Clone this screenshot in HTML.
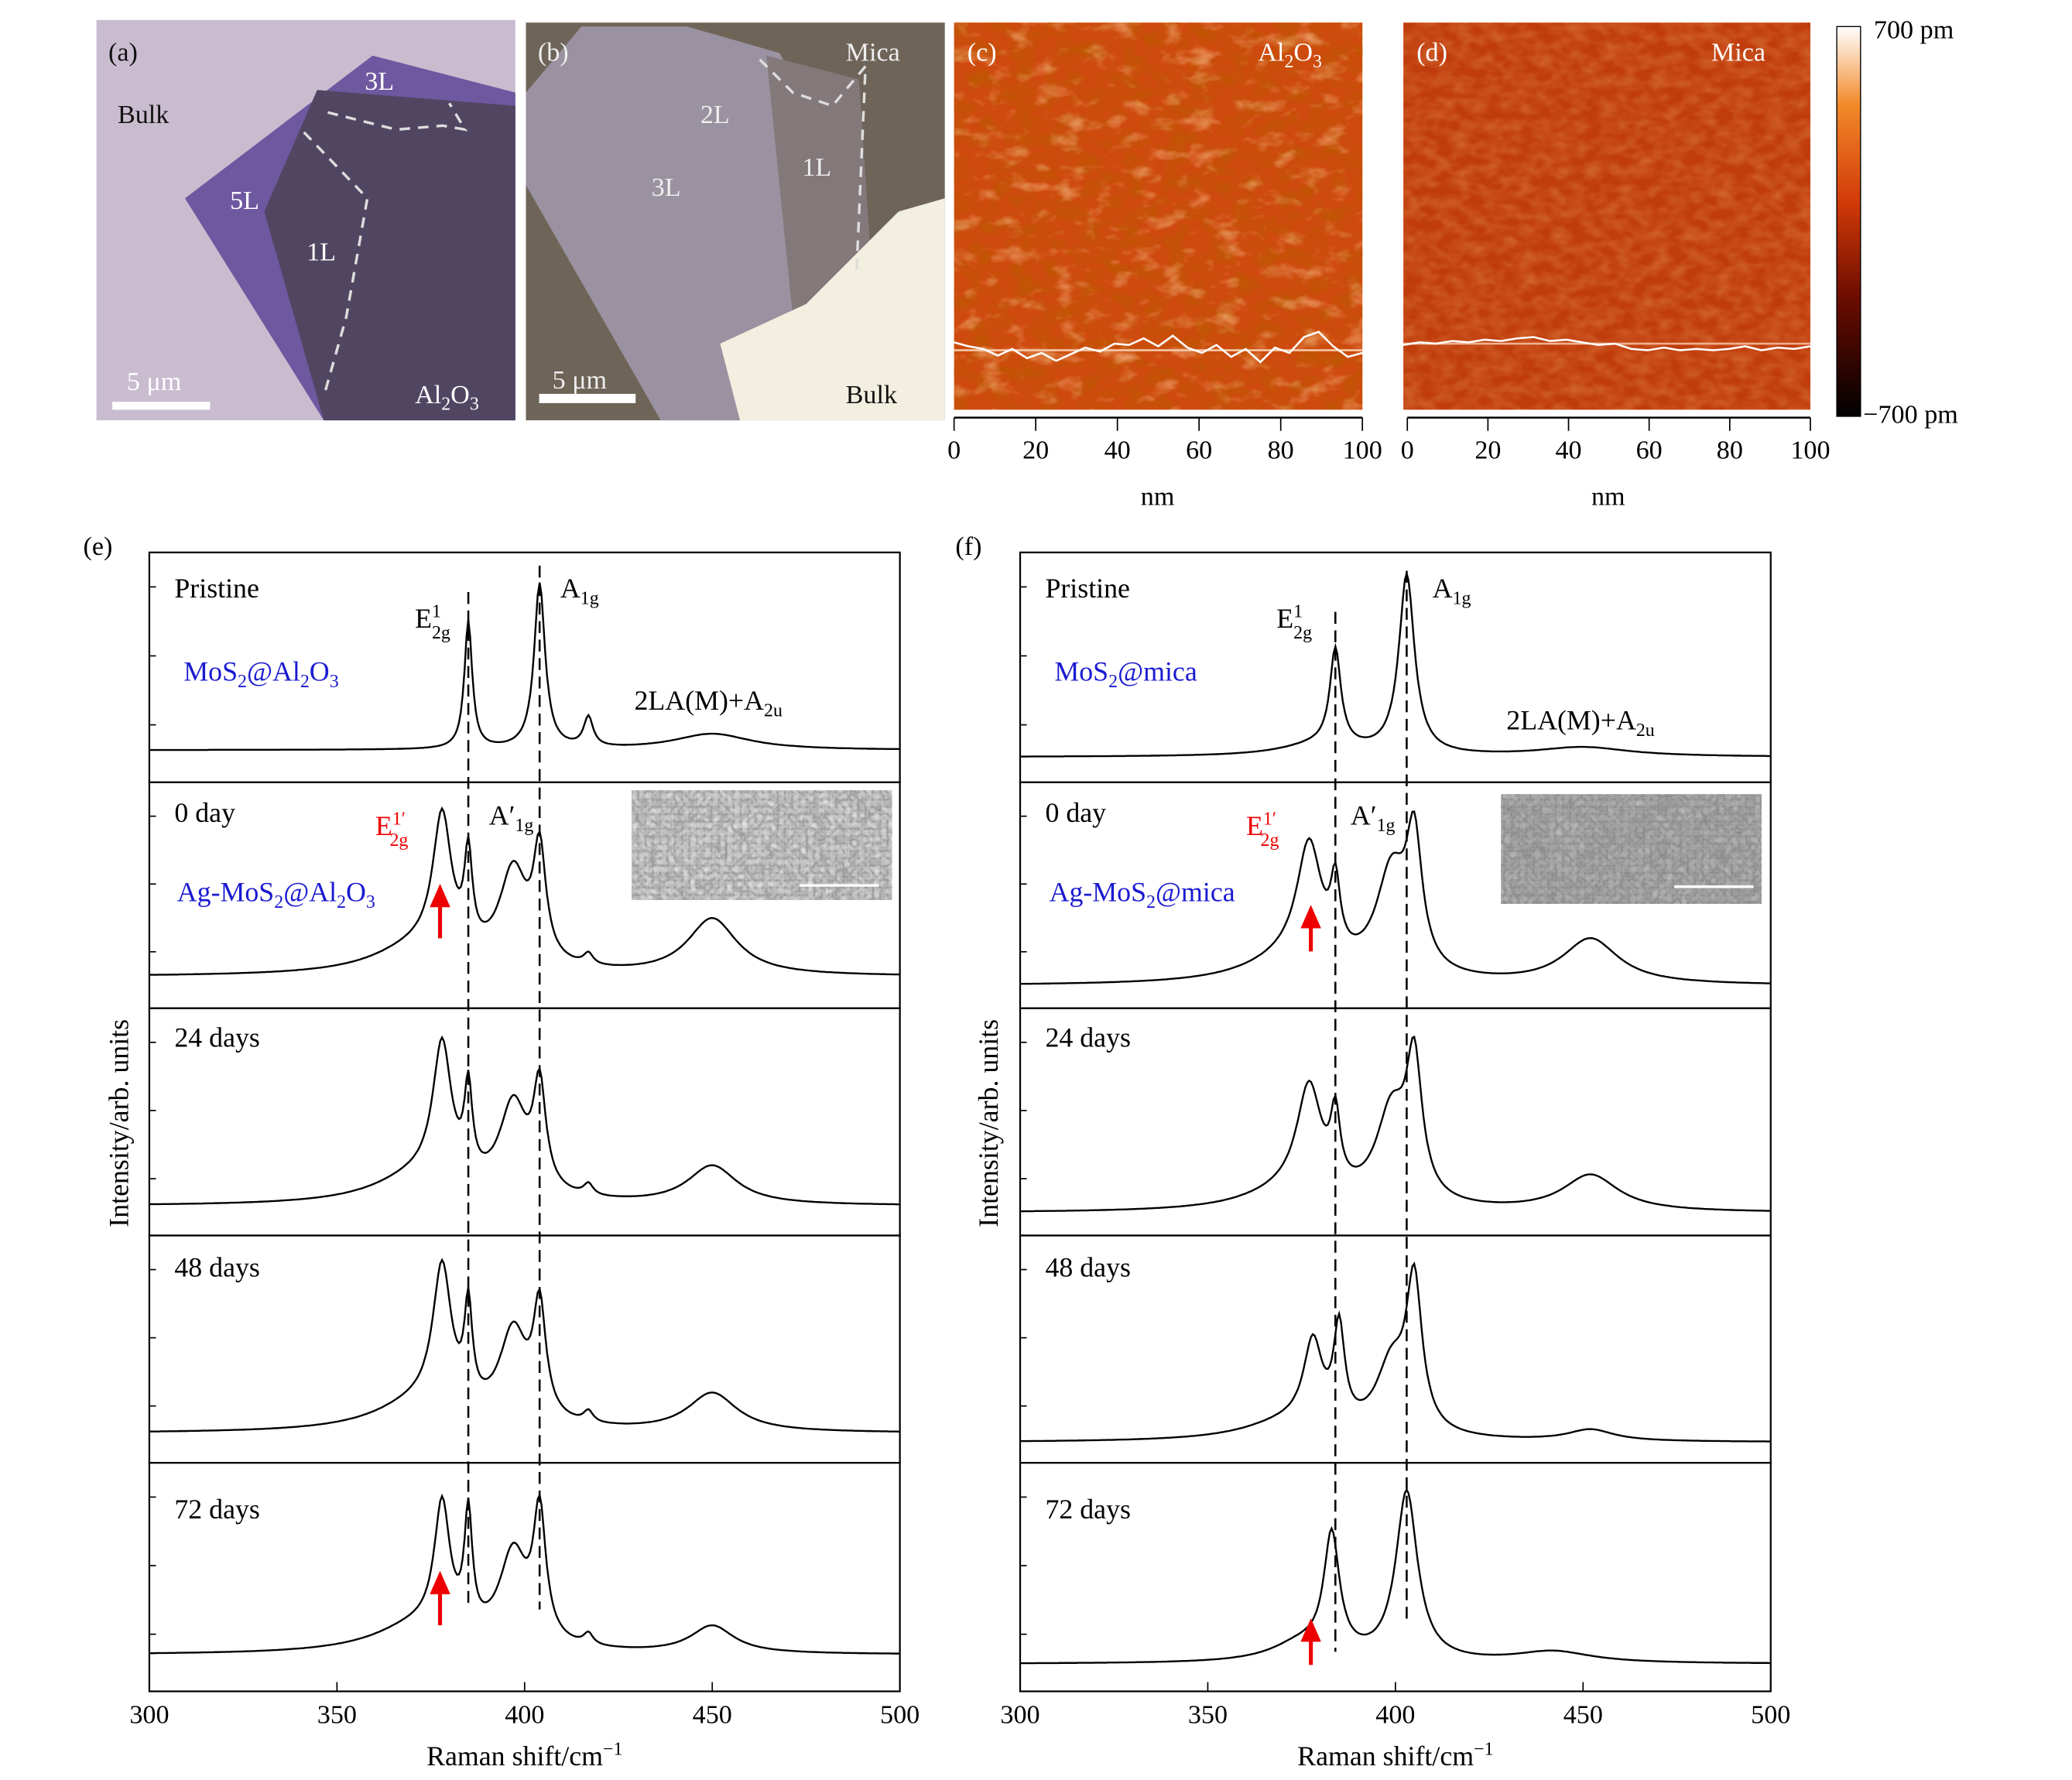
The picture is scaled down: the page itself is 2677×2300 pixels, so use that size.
<!DOCTYPE html>
<html><head><meta charset="utf-8"><style>
html,body{margin:0;padding:0;background:#fff;}
svg{display:block;font-family:"Liberation Serif",serif;}
</style></head><body>
<svg id="fig" width="2677" height="2300" viewBox="0 0 1568 1347" xmlns="http://www.w3.org/2000/svg">
<defs>
<filter id="afmC" x="0" y="0" width="1" height="1">
<feTurbulence type="fractalNoise" baseFrequency="0.06 0.09" numOctaves="3" seed="3"/>
<feColorMatrix type="matrix" values="0 0 0 0 0.5  0 0 0 0 0.1  0 0 0 0 0.0  1.6 0 0 0 -0.6"/>
</filter>
<filter id="afmC2" x="0" y="0" width="1" height="1">
<feTurbulence type="fractalNoise" baseFrequency="0.05 0.08" numOctaves="3" seed="11"/>
<feColorMatrix type="matrix" values="0 0 0 0 1  0 0 0 0 0.65  0 0 0 0 0.35  1.4 0 0 0 -0.75"/>
</filter>
<filter id="afmD" x="0" y="0" width="1" height="1">
<feTurbulence type="fractalNoise" baseFrequency="0.08 0.12" numOctaves="2" seed="7"/>
<feColorMatrix type="matrix" values="0 0 0 0 0.9  0 0 0 0 0.45  0 0 0 0 0.15  0.6 0 0 0 -0.2"/>
</filter>
<filter id="sem" x="0" y="0" width="1" height="1">
<feTurbulence type="turbulence" baseFrequency="0.18" numOctaves="2" seed="4"/>
<feColorMatrix type="matrix" values="0.3 0.3 0.3 0 0.25  0.3 0.3 0.3 0 0.25  0.3 0.3 0.3 0 0.25  0 0 0 0 1"/>
</filter>
<linearGradient id="cbar" x1="0" y1="1" x2="0" y2="0">
<stop offset="0" stop-color="#000"/><stop offset="0.3" stop-color="#6a0c00"/><stop offset="0.55" stop-color="#d23a08"/><stop offset="0.8" stop-color="#f28a2a"/><stop offset="1" stop-color="#fff"/>
</linearGradient>
</defs>

<g>
<rect x="73" y="15" width="317" height="303" fill="#c9bccf"/>
<polygon points="140,150 282,42 390,70 390,318 245,318" fill="#6e58a0"/>
<polygon points="200,160 240,68 390,80 390,318 245,318" fill="#514662"/>
<polyline points="230,100 278,150 262,240 245,300" fill="none" stroke="#ddd" stroke-width="2" stroke-dasharray="8,6"/>
<polyline points="248,85 300,98 335,95 352,98 340,78" fill="none" stroke="#ddd" stroke-width="2" stroke-dasharray="8,6"/>
<rect x="85" y="304" width="74" height="6" fill="#fff"/>
<g font-size="20" fill="#111"><text x="82" y="46">(a)</text><text x="89" y="93">Bulk</text></g>
<g font-size="20" fill="#fff"><text x="276" y="68">3L</text><text x="174" y="158">5L</text><text x="232" y="197">1L</text><text x="96" y="295">5 μm</text><text x="314" y="305">Al<tspan font-size="14" dy="5">2</tspan><tspan dy="-5">O</tspan><tspan font-size="14" dy="5">3</tspan></text></g>
</g>

<g>
<rect x="398" y="17" width="317" height="301" fill="#6e6458"/>
<polygon points="398,70 440,20 520,20 590,40 648,150 660,215 600,250 560,318 500,318 398,140" fill="#9a92a0"/>
<polygon points="580,42 650,60 660,210 600,240" fill="#83797b"/>
<polygon points="545,260 610,230 680,160 715,150 715,318 560,318" fill="#f3efe0"/>
<polyline points="575,45 600,70 630,80 655,50 648,210" fill="none" stroke="#ddd" stroke-width="2" stroke-dasharray="8,6"/>
<rect x="408" y="298" width="73" height="7" fill="#fff"/>
<g font-size="20" fill="#eee"><text x="407" y="46">(b)</text><text x="640" y="46">Mica</text><text x="530" y="93">2L</text><text x="493" y="148">3L</text><text x="607" y="133">1L</text><text x="418" y="294">5 μm</text></g>
<text x="640" y="305" font-size="20" fill="#111">Bulk</text>
</g>

<g>
<rect x="722" y="17" width="309" height="293" fill="#cf4a0e"/>
<rect x="722" y="17" width="309" height="293" filter="url(#afmC)"/>
<rect x="722" y="17" width="309" height="293" filter="url(#afmC2)"/>
<line x1="722" y1="265" x2="1031" y2="265" stroke="#f6c8a8" stroke-width="1.5"/>
<polyline id="profC" fill="none" stroke="#fff" stroke-width="1.5"/>
<g font-size="20" fill="#fff"><text x="732" y="46">(c)</text><text x="952" y="46">Al<tspan font-size="14" dy="5">2</tspan><tspan dy="-5">O</tspan><tspan font-size="14" dy="5">3</tspan></text></g>
</g>
<g>
<rect x="1062" y="17" width="308" height="293" fill="#c03c0c"/>
<rect x="1062" y="17" width="308" height="293" filter="url(#afmD)"/>
<line x1="1062" y1="260" x2="1370" y2="260" stroke="#f0b090" stroke-width="1.5"/>
<polyline id="profD" fill="none" stroke="#fff" stroke-width="1.5"/>
<g font-size="20" fill="#fff"><text x="1072" y="46">(d)</text><text x="1295" y="46">Mica</text></g>
</g>
<g>
<rect x="1390" y="20" width="18" height="295" fill="url(#cbar)" stroke="#000" stroke-width="0.8"/>
<text x="1418" y="29" font-size="20">700 pm</text>
<text x="1410" y="320" font-size="20">−700 pm</text>
</g>
<g id="afmAxes" font-size="20"></g>
<text x="876" y="382" font-size="20" text-anchor="middle">nm</text>
<text x="1217" y="382" font-size="20" text-anchor="middle">nm</text>

<text x="63" y="420" font-size="20">(e)</text>
<text x="723" y="420" font-size="20">(f)</text>
<g id="ramanE"></g>
<g id="ramanF"></g>

<g font-size="21">
<text x="132" y="452">Pristine</text>
<text x="314" y="475">E<tspan font-size="14" dy="-8">1</tspan><tspan font-size="14" dx="-7" dy="16">2g</tspan></text>
<text x="424" y="452">A<tspan font-size="14" dy="5">1g</tspan></text>
<text x="139" y="515" fill="#1a1ad0">MoS<tspan font-size="14" dy="5">2</tspan><tspan dy="-5">@Al</tspan><tspan font-size="14" dy="5">2</tspan><tspan dy="-5">O</tspan><tspan font-size="14" dy="5">3</tspan></text>
<text x="480" y="537">2LA(M)+A<tspan font-size="14" dy="5">2u</tspan></text>
<text x="132" y="622">0 day</text>
<text x="284" y="632" fill="#e00">E<tspan font-size="14" dy="-8">1′</tspan><tspan font-size="14" dx="-12" dy="16">2g</tspan></text>
<text x="370" y="624">A′<tspan font-size="14" dy="5">1g</tspan></text>
<text x="134" y="682" fill="#1a1ad0">Ag-MoS<tspan font-size="14" dy="5">2</tspan><tspan dy="-5">@Al</tspan><tspan font-size="14" dy="5">2</tspan><tspan dy="-5">O</tspan><tspan font-size="14" dy="5">3</tspan></text>
<text x="132" y="792">24 days</text>
<text x="132" y="966">48 days</text>
<text x="132" y="1149">72 days</text>
</g>
<g font-size="21">
<text x="791" y="452">Pristine</text>
<text x="966" y="475">E<tspan font-size="14" dy="-8">1</tspan><tspan font-size="14" dx="-7" dy="16">2g</tspan></text>
<text x="1084" y="452">A<tspan font-size="14" dy="5">1g</tspan></text>
<text x="798" y="515" fill="#1a1ad0">MoS<tspan font-size="14" dy="5">2</tspan><tspan dy="-5">@mica</tspan></text>
<text x="1140" y="552">2LA(M)+A<tspan font-size="14" dy="5">2u</tspan></text>
<text x="791" y="622">0 day</text>
<text x="943" y="632" fill="#e00">E<tspan font-size="14" dy="-8">1′</tspan><tspan font-size="14" dx="-12" dy="16">2g</tspan></text>
<text x="1022" y="624">A′<tspan font-size="14" dy="5">1g</tspan></text>
<text x="794" y="682" fill="#1a1ad0">Ag-MoS<tspan font-size="14" dy="5">2</tspan><tspan dy="-5">@mica</tspan></text>
<text x="791" y="792">24 days</text>
<text x="791" y="966">48 days</text>
<text x="791" y="1149">72 days</text>
</g>
<g>
<rect x="478" y="598" width="197" height="83" fill="#777"/><rect x="478" y="598" width="197" height="83" filter="url(#sem)"/>
<line x1="605" y1="670" x2="665" y2="670" stroke="#fff" stroke-width="2"/></g>
<g>
<rect x="1136" y="601" width="197" height="83" fill="#777"/><rect x="1136" y="601" width="197" height="83" filter="url(#sem)" opacity="0.6"/>
<line x1="1267" y1="671" x2="1327" y2="671" stroke="#fff" stroke-width="2"/></g>
<g fill="#e00" stroke="#e00">
<line x1="333" y1="710" x2="333" y2="684" stroke-width="3"/><polygon points="326,686 340,686 333,670"/>
<line x1="333" y1="1230" x2="333" y2="1204" stroke-width="3"/><polygon points="326,1206 340,1206 333,1190"/>
<line x1="992" y1="720" x2="992" y2="700" stroke-width="3"/><polygon points="985,702 999,702 992,686"/>
<line x1="992" y1="1260" x2="992" y2="1240" stroke-width="3"/><polygon points="985,1242 999,1242 992,1226"/>
</g>
<text transform="translate(97,850) rotate(-90)" font-size="21" text-anchor="middle">Intensity/arb. units</text>
<text transform="translate(755,850) rotate(-90)" font-size="21" text-anchor="middle">Intensity/arb. units</text>
<text x="397" y="1336" font-size="21" text-anchor="middle">Raman shift/cm<tspan font-size="14" dy="-8">−1</tspan></text>
<text x="1056" y="1336" font-size="21" text-anchor="middle">Raman shift/cm<tspan font-size="14" dy="-8">−1</tspan></text>
</svg>
<script>
const NS='http://www.w3.org/2000/svg';
const xTicks=[300,350,400,450,500];
const afmTicks=[0,20,40,60,80,100];
const profileC=[0.6,0.3,0.1,-0.4,0.1,-0.6,-0.2,-0.8,-0.3,0.2,-0.1,0.5,0.4,0.9,0.3,1.1,0.2,-0.2,0.4,-0.5,0.1,-0.9,0.2,-0.2,1.0,1.4,0.3,-0.5,-0.2];
const profileD=[0.1,0.3,0.2,0.4,0.3,0.5,0.4,0.6,0.7,0.4,0.5,0.3,0.1,0.2,-0.2,-0.3,-0.1,-0.3,-0.2,-0.3,-0.2,0.0,-0.3,-0.1,-0.2,0.0];
const ePristine={base:0.14,peaks:[[385,0.56,2.5],[404,0.72,3.5],[417,0.13,3],[450,0.07,25]]};
const e0day={base:0.14,peaks:[[378,0.6,6],[385,0.4,2.5],[397,0.42,9],[404,0.48,4],[417,0.05,3],[450,0.25,16],[372,0.12,30]]};
const e24={base:0.13,peaks:[[378,0.6,6],[385,0.38,2.5],[397,0.4,9],[404,0.45,4],[417,0.05,3],[450,0.17,16],[372,0.12,30]]};
const e48={base:0.13,peaks:[[378,0.62,6],[385,0.42,2.5],[397,0.4,9],[404,0.48,4],[417,0.05,3],[450,0.17,16],[372,0.12,30]]};
const e72={base:0.16,peaks:[[378,0.55,5],[385,0.5,2.5],[397,0.4,9],[404,0.55,4],[417,0.05,3],[450,0.12,14],[372,0.12,30]]};
const fPristine={base:0.11,peaks:[[384,0.42,3.5],[403,0.78,5],[450,0.04,30],[380,0.05,25]]};
const f0day={base:0.1,peaks:[[377,0.52,8],[384,0.3,3],[399,0.45,10],[405,0.55,5],[452,0.2,18],[372,0.1,30]]};
const f24={base:0.1,peaks:[[377,0.47,8],[384,0.3,3],[399,0.4,10],[405,0.58,5],[452,0.16,18],[372,0.08,30]]};
const f48={base:0.09,peaks:[[378,0.36,6],[385,0.42,3.5],[399,0.3,10],[405,0.64,5],[452,0.05,15],[372,0.08,30]]};
const f72={base:0.12,peaks:[[383,0.52,5],[403,0.74,7],[442,0.05,25],[375,0.08,20]]};
const eSpectra=[ePristine,e0day,e24,e48,e72];
const fSpectra=[fPristine,f0day,f24,f48,f72];
const eDashed=[385,404], fDashed=[384,403];
const panelTops=[418,592,763,935,1107,1280];
function mk(tag,attrs,parent){const el=document.createElementNS(NS,tag);for(const k in attrs)el.setAttribute(k,attrs[k]);parent.appendChild(el);return el;}
function intensity(s,x){let v=s.base;for(const p of s.peaks){const d=(x-p[0])/(p[2]/2);v+=p[1]/(1+d*d);}return v;}
function drawPanel(gid,x0,x1,specs,dashed,dashSpan){
  const g=document.getElementById(gid);
  const sx=v=>x0+(v-300)/200*(x1-x0);
  specs.forEach((s,i)=>{
    const top=panelTops[i],bot=panelTops[i+1],h=bot-top;
    const r=mk('rect',{x:x0,y:top,width:x1-x0,height:h,fill:'none',stroke:'#000','stroke-width':1.3},g);
    
    
    let d='';
    for(let x=300;x<=500;x+=0.5){const y=bot-intensity(s,x)*h;d+=(x===300?'M':'L')+sx(x).toFixed(1)+','+y.toFixed(1);}
    const p=mk('path',{d:d,fill:'none',stroke:'#000','stroke-width':1.4},g);
    
    
    [0.25,0.55,0.85].forEach(f=>{const t=mk('line',{x1:x0,x2:x0+5,y1:bot-f*h,y2:bot-f*h,stroke:'#000'},g);
      
      });
  });
  const bot=panelTops[5];
  xTicks.forEach(v=>{
    const t=mk('line',{x1:sx(v),x2:sx(v),y1:bot,y2:bot-7,stroke:'#000'},g);
    
    
    const tx=mk('text',{x:sx(v),y:bot+24,'font-size':20,'text-anchor':'middle'},g);tx.textContent=v;
    
    
  });
  dashed.forEach((v,i)=>{
    const l=mk('line',{x1:sx(v),x2:sx(v),y1:dashSpan[i][0],y2:dashSpan[i][1],stroke:'#000','stroke-width':1.5,'stroke-dasharray':'9,5'},g);
    
    
  });
}
drawPanel('ramanE',113,681,eSpectra,eDashed,[[448,1215],[428,1218]]);
drawPanel('ramanF',772,1340,fSpectra,fDashed,[[463,1250],[432,1230]]);
function profile(id,x0,x1,y0,arr){const el=document.getElementById(id);
  el.setAttribute('points',arr.map((v,i)=>(x0+i*(x1-x0)/(arr.length-1)).toFixed(1)+','+(y0-v*10).toFixed(1)).join(' '));}
profile('profC',722,1031,265,profileC);
profile('profD',1062,1370,262,profileD);
const ag=document.getElementById('afmAxes');
[[722,1031],[1065,1370]].forEach(([a,b])=>{
  const l=mk('line',{x1:a,x2:b,y1:316,y2:316,stroke:'#000','stroke-width':1.5},ag);
  
  
  afmTicks.forEach(v=>{const x=a+v/100*(b-a);
    const t=mk('line',{x1:x,x2:x,y1:316,y2:326,stroke:'#000'},ag);
    
    
    const tx=mk('text',{x:x,y:347,'text-anchor':'middle'},ag);tx.textContent=v;
    
    });
});
</script>
</body></html>
